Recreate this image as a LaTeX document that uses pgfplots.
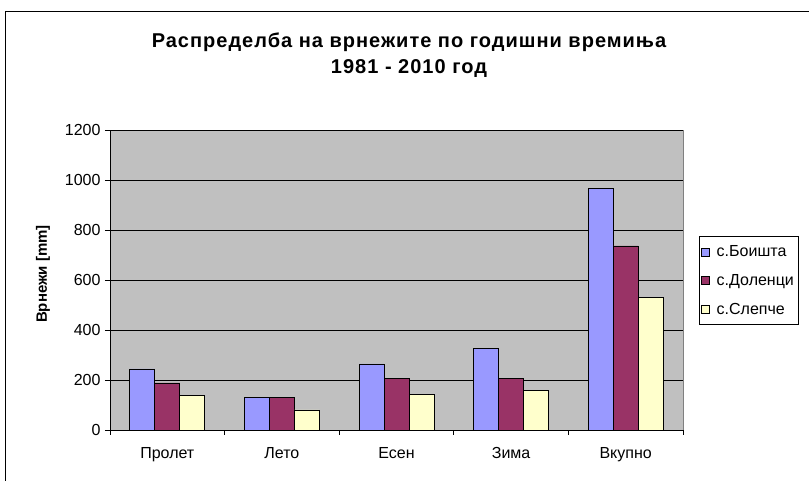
\documentclass[border=0pt]{standalone}
\usepackage{pgfplots}
\pgfplotsset{compat=1.18}
\usepackage{fontspec}
\setmainfont{Liberation Sans}
\definecolor{bBlue}{HTML}{9999FF}
\definecolor{bMaroon}{HTML}{993366}
\definecolor{bCream}{HTML}{FFFFCC}
\definecolor{bGray}{HTML}{C0C0C0}
\begin{document}
\begin{tikzpicture}[x=1pt,y=1pt]
\useasboundingbox (0,0) rectangle (809,481);
\fill[white] (0,0) rectangle (809,481);
\draw[line width=1pt] (5,-2) -- (5,469) -- (812,469);
\node[font=\bfseries\fontsize{20}{26}\selectfont\addfontfeatures{LetterSpace=5}, align=center] at (409,426) {Распределба на врнежите по годишни времиња\\1981 - 2010 год};
\begin{axis}[
  at={(110pt,51pt)}, anchor=south west,
  scale only axis, width=573pt, height=300pt,
  ybar=0pt, bar width=25pt,
  xmin=-0.5, xmax=4.5, ymin=0, ymax=1200,
  ytick={0,200,...,1200},
  xtick={0,1,2,3,4},
  xticklabels={Пролет,Лето,Есен,Зима,Вкупно},
  minor xtick={-0.5,0.5,1.5,2.5,3.5,4.5},
  major x tick style={draw=none},
  minor x tick style={black, line width=0.8pt},
  y tick style={black, line width=0.8pt},
  tick align=outside,
  major tick length=5pt, minor tick length=5pt,
  axis x line*=bottom, axis y line*=left,
  axis line style={black, line width=0.8pt, -},
  axis background/.style={fill=bGray, draw=gray},
  ymajorgrids, grid style={black, line width=0.8pt},
  ticklabel style={font=\fontsize{16}{18}\selectfont},
  /pgf/number format/assume math mode=true,
  /pgf/number format/1000 sep={},
  xticklabel style={yshift=-9pt},
  yticklabel style={xshift=-1pt},
  ylabel={Врнежи [mm]},
  ylabel style={font=\bfseries\fontsize{15}{17}\selectfont, at={(axis description cs:-0.117,0.52)}, anchor=center},
  legend style={at={(axis description cs:1.028,0.645)}, anchor=north west, draw=black, line width=0.8pt,
    font=\fontsize{16}{18}\selectfont, row sep=12pt, inner xsep=2pt, inner ysep=7pt,
    legend cell align=left},
  legend image code/.code={\draw[#1, line width=0.6pt, draw=black] (0pt,-4pt) rectangle (8pt,4pt); \path[draw=none,fill=none] (0pt,0pt) -- (13pt,0pt);},
  every axis plot/.append style={draw=black, line width=0.8pt},
  clip=false,
]
\addplot[fill=bBlue] coordinates {(0,244) (1,131) (2,264) (3,325) (4,967)};
\addplot[fill=bMaroon] coordinates {(0,188) (1,131) (2,207) (3,207) (4,736)};
\addplot[fill=bCream] coordinates {(0,137) (1,80) (2,143) (3,157) (4,529)};
\legend{с.Боишта,с.Доленци,с.Слепче}
\end{axis}
\end{tikzpicture}
\end{document}
